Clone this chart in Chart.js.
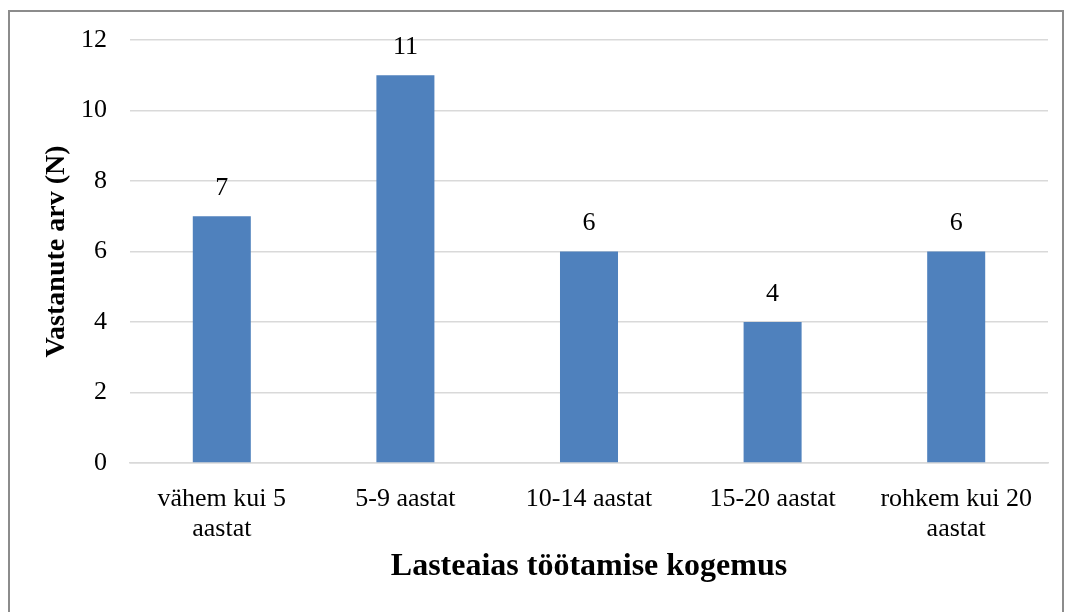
<!DOCTYPE html>
<html>
<head>
<meta charset="utf-8">
<script src="https://cdn.jsdelivr.net/npm/chart.js@4"></script>
<style>
  body { margin: 0; background: #fff; }
  #wrap { position: relative; width: 1065px; height: 612px; }
  #frame { position: absolute; left: 8px; top: 10px; width: 1052px; height: 620px; border: 2px solid #8c8c8c; pointer-events: none; }
</style>
</head>
<body>
<div id="wrap">
  <canvas id="chart" width="1065" height="612"></canvas>
  <div id="frame"></div>
</div>
<script>
const categories = [['vähem kui 5', 'aastat'], '5-9 aastat', '10-14 aastat', '15-20 aastat', ['rohkem kui 20', 'aastat']]
const respondents = [7, 11, 6, 4, 6]
const yTicks = [0, 2, 4, 6, 8, 10, 12]

const serif = "'Liberation Serif', 'Times New Roman', serif"

// numbers above the bars
const valueLabels = {
  id: 'valueLabels',
  afterDatasetsDraw(chart) {
    const ctx = chart.ctx
    ctx.save()
    ctx.font = '26px ' + serif
    ctx.fillStyle = '#000'
    ctx.textAlign = 'center'
    ctx.textBaseline = 'middle'
    chart.getDatasetMeta(0).data.forEach((bar, i) => {
      ctx.fillText(respondents[i], bar.x, bar.y - 28)
    })
    ctx.restore()
  }
}

new Chart(document.getElementById('chart'), {
  type: 'bar',
  data: {
    labels: categories,
    datasets: [{
      data: respondents,
      backgroundColor: '#4f81bd',
      categoryPercentage: 1,
      barPercentage: 0.316,
    }]
  },
  options: {
    responsive: false,
    animation: false,
    layout: { padding: { left: 0, right: 17, top: 40, bottom: 0 } },
    plugins: {
      legend: { display: false },
      tooltip: { enabled: false },
    },
    scales: {
      y: {
        min: 0,
        max: 12,
        afterBuildTicks: (scale) => { scale.ticks = yTicks.map(v => ({ value: v })) },
        afterFit: (scale) => { scale.width = 130 },
        ticks: { color: '#000', padding: 23, font: { family: serif, size: 26 } },
        grid: { color: '#d9d9d9', lineWidth: 1.5, drawTicks: false },
        border: { display: false },
        title: {
          display: true,
          text: 'Vastanute arv (N)',
          color: '#000',
          padding: { top: 40, bottom: 0 },
          font: { family: serif, size: 28, weight: 'bold' }
        }
      },
      x: {
        afterFit: (scale) => { scale.height = 149 },
        ticks: { color: '#000', padding: 21, maxRotation: 0, font: { family: serif, size: 26, lineHeight: 1.15 } },
        grid: { display: false, drawTicks: false },
        border: { color: '#d9d9d9', width: 1.5 },
        title: {
          display: true,
          text: 'Lasteaias töötamise kogemus',
          color: '#000',
          padding: { top: 0, bottom: 26 },
          font: { family: serif, size: 32, weight: 'bold' }
        }
      }
    }
  },
  plugins: [valueLabels]
})
</script>
</body>
</html>
